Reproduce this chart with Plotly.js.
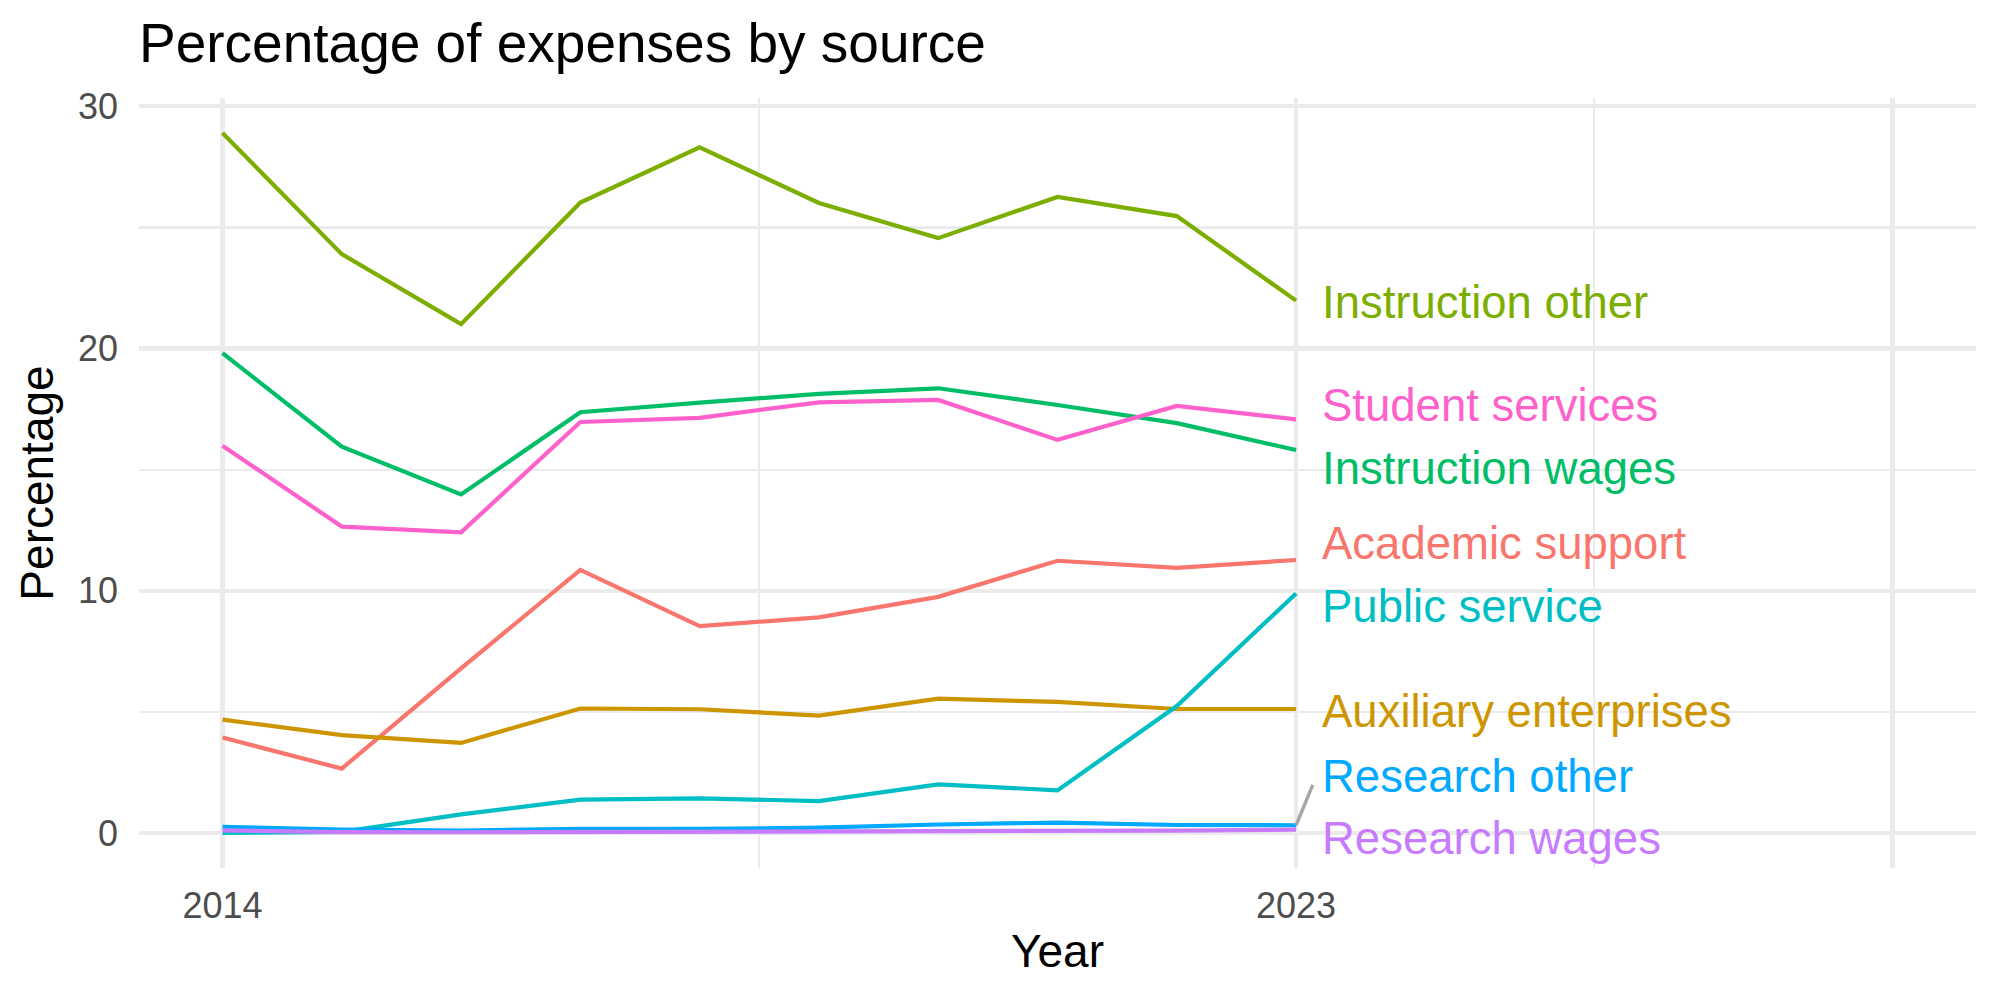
<!DOCTYPE html>
<html>
<head>
<meta charset="utf-8">
<script src="https://cdn.plot.ly/plotly-3.0.1.min.js"></script>
<style>
  html, body { margin: 0; padding: 0; background: #ffffff; }
  #chart { width: 2000px; height: 1000px; }
</style>
</head>
<body>
<div id="chart"></div>
<script>
// ---- Data ----
const years = [2014, 2015, 2016, 2017, 2018, 2019, 2020, 2021, 2022, 2023];

const academicSupport      = [3.94, 2.66, 6.80, 10.86, 8.54, 8.90, 9.75, 11.24, 10.95, 11.27];
const auxiliaryEnterprises = [4.68, 4.04, 3.72, 5.14, 5.11, 4.85, 5.55, 5.41, 5.12, 5.12];
const instructionOther     = [28.90, 23.90, 21.01, 26.03, 28.31, 26.01, 24.56, 26.26, 25.47, 21.98];
const instructionWages     = [19.81, 15.95, 13.98, 17.37, 17.77, 18.13, 18.36, 17.67, 16.92, 15.81];
const publicService        = [0.00, 0.05, 0.77, 1.38, 1.43, 1.32, 2.01, 1.76, 5.24, 9.89];
const researchOther        = [0.25, 0.14, 0.10, 0.17, 0.17, 0.22, 0.35, 0.43, 0.33, 0.32];
const researchWages        = [0.11, 0.04, 0.03, 0.04, 0.04, 0.06, 0.08, 0.07, 0.10, 0.14];
const studentServices      = [15.99, 12.65, 12.41, 16.97, 17.14, 17.78, 17.88, 16.23, 17.63, 17.08];

const seriesNames = ["Academic support", "Auxiliary enterprises", "Instruction other", "Instruction wages",
                     "Public service", "Research other", "Research wages", "Student services"];
const seriesValues = [academicSupport, auxiliaryEnterprises, instructionOther, instructionWages,
                      publicService, researchOther, researchWages, studentServices];
const seriesColors = ["#F8766D", "#CD9600", "#7CAE00", "#00BE67", "#00BFC4", "#00A9FF", "#C77CFF", "#FF61CC"];

// repelled label positions (year, value)
const labelX = 2023.2;
const labelY = [11.96, 5.02, 21.90, 15.05, 9.35, 2.34, -0.21, 17.66];

const xTickVals = [2014, 2023, 2028];
const xTickText = ["2014", "2023", ""];
const xMinorVals = [2018.5, 2025.5];
const yTickVals = [0, 10, 20, 30];
const yTickText = ["0", "10", "20", "30"];
const yMinorVals = [5, 15, 25];

// ---- Traces ----
const FONT = "Liberation Sans, Arial, Helvetica, sans-serif";
const traces = seriesNames.map((name, i) => ({
  type: "scatter",
  mode: "lines",
  name: name,
  x: years,
  y: seriesValues[i],
  line: { color: seriesColors[i], width: 4.2 },
  hoverinfo: "x+y+name",
  showlegend: false
}));

// connector segment for the repelled "Research other" label
const roIdx = seriesNames.indexOf("Research other");
const lastYear = years[years.length - 1];
traces.push({
  type: "scatter",
  mode: "lines",
  x: [lastYear, labelX - 0.06],
  y: [researchOther[researchOther.length - 1], labelY[roIdx] - 0.35],
  line: { color: "#A6A6A6", width: 3.4 },
  hoverinfo: "skip",
  showlegend: false
});

const annotations = seriesNames.map((name, i) => ({
  x: labelX,
  y: labelY[i],
  xref: "x",
  yref: "y",
  text: name,
  showarrow: false,
  xanchor: "left",
  yanchor: "middle",
  font: { family: FONT, size: 45.5, color: seriesColors[i] }
}));

const gridColor = "#EBEBEB";

const layout = {
  width: 2000,
  height: 1000,
  autosize: false,
  paper_bgcolor: "#ffffff",
  plot_bgcolor: "#ffffff",
  margin: { l: 138.5, r: 24, t: 98.4, b: 132.3, pad: 0 },
  font: { family: FONT, color: "#000000" },
  title: {
    text: "Percentage of expenses by source",
    font: { family: FONT, size: 55, color: "#000000" },
    xref: "paper",
    x: 0,
    xanchor: "left",
    yref: "container",
    y: 0.957,
    yanchor: "middle"
  },
  xaxis: {
    range: [2013.3, 2028.7],
    tickmode: "array",
    tickvals: xTickVals,
    ticktext: xTickText,
    showgrid: true,
    gridcolor: gridColor,
    gridwidth: 4.2,
    zeroline: false,
    showline: false,
    ticks: "",
    ticklabelstandoff: 13,
    tickfont: { family: FONT, size: 36, color: "#4D4D4D" },
    minor: { tickmode: "array", tickvals: xMinorVals, showgrid: true, gridcolor: gridColor, gridwidth: 2.1, ticks: "" },
    title: { text: "Year", font: { family: FONT, size: 46, color: "#000000" }, standoff: 9 },
    fixedrange: true
  },
  yaxis: {
    range: [-1.445, 30.345],
    tickmode: "array",
    tickvals: yTickVals,
    ticktext: yTickText,
    showgrid: true,
    gridcolor: gridColor,
    gridwidth: 4.2,
    zeroline: false,
    showline: false,
    ticks: "",
    ticklabelstandoff: 20,
    tickfont: { family: FONT, size: 36, color: "#4D4D4D" },
    minor: { tickmode: "array", tickvals: yMinorVals, showgrid: true, gridcolor: gridColor, gridwidth: 2.1, ticks: "" },
    title: { text: "Percentage", font: { family: FONT, size: 46, color: "#000000" }, standoff: 9 },
    fixedrange: true
  },
  annotations: annotations,
  showlegend: false
};

Plotly.newPlot("chart", traces, layout, { displayModeBar: false, staticPlot: true });
</script>
</body>
</html>
